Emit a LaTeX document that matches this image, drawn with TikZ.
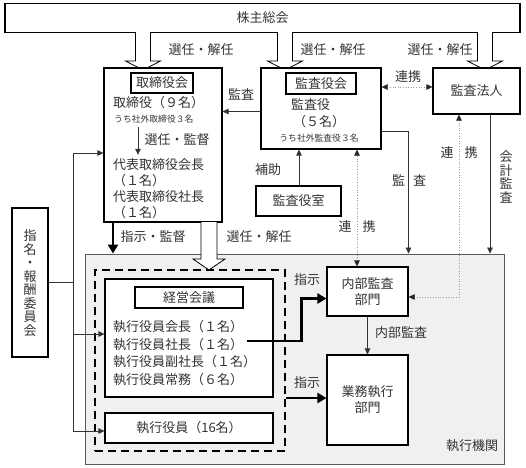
\documentclass[tikz,border=0pt]{standalone}
\usepackage{fontspec}
\setmainfont{Noto Sans CJK JP}
\usetikzlibrary{arrows.meta}

\begin{document}
\begin{tikzpicture}[x=1pt, y=-1pt,
    every node/.style = {font=\fontsize{13}{16}\selectfont, text=black!80, inner sep=0pt},
    box/.style = {draw, line width=1.1pt, fill=white},
    small/.style = {font=\fontsize{8.8}{10}\selectfont},
    vert/.style = {align=center, font=\fontsize{13}{13.5}\selectfont},
    arr/.style = {draw=black!80, line width=0.7pt, -{Triangle[length=6pt, width=5.5pt]}},
    dots/.style = {draw=black!40, line width=0.6pt, dotted,
        {Triangle[length=6pt, width=5.5pt, color=black!85]}-{Triangle[length=6pt, width=5.5pt, color=black!85]}},
    hollow/.style = {draw, line width=0.8pt, fill=white},
    bigarr/.style = {draw, line width=2.6pt, -{Triangle[length=9pt, width=10pt]}}]
    \useasboundingbox (0,0) rectangle (526,467);

    % top
    \node[box, minimum width=515pt, minimum height=29pt] (soukai) at (262.5,18) {株主総会};
    \foreach \x in {143, 285, 485}
        \draw[hollow] (\x-7.5,32) -- (\x-7.5,61) -- (\x-17.5,61) -- (\x,70)
            -- (\x+17.5,61) -- (\x+7.5,61) -- (\x+7.5,32);
    \node (senin1) at (201,50) {選任・解任};
    \node (senin2) at (333,50) {選任・解任};
    \node (senin3) at (440,50) {選任・解任};

    % board
    \node[box, minimum width=118pt, minimum height=154pt] (torishimari) at (163,145) {};
    \node[box, minimum width=62pt, minimum height=20pt] (torititle) at (162,83) {取締役会};
    \node[anchor=west] (tori9) at (113,103) {取締役（９名）};
    \node[anchor=west, small] (torigai) at (114,119) {うち社外取締役３名};
    \node[anchor=west] (daihyo1) at (113,165) {代表取締役会長};
    \node[anchor=west] (daihyo1n) at (113,181) {（１名）};
    \node[anchor=west] (daihyo2) at (113,197) {代表取締役社長};
    \node[anchor=west] (daihyo2n) at (113,213) {（１名）};
    \draw[arr] ([xshift=24pt, yshift=-4pt]torigai.south west) -- ([xshift=25pt, yshift=4pt]daihyo1.north west);
    \node (senkan) at (177,140) {選任・監督};

    % auditors
    \node[box, minimum width=120pt, minimum height=81pt] (kansayakukai) at (321,108.5) {};
    \node[box, minimum width=70pt, minimum height=21pt] (kansatitle) at (321,83.5) {監査役会};
    \node[anchor=west] (kansa5) at (291,105) {監査役};
    \node[anchor=west] (kansa5n) at (293,122) {（５名）};
    \node[small] (kansagai) at (319,138) {うち社外監査役３名};
    \node[box, minimum width=87pt, minimum height=46pt] (houjin) at (476.5,91) {監査法人};
    \node[box, minimum width=85pt, minimum height=30pt] (kansashitsu) at (298.5,201) {監査役室};

    \draw[arr] ([yshift=-3pt]kansayakukai.west) -- ([yshift=-3pt]kansayakukai.west -| torishimari.east);
    \node (kansalbl) at (241,94) {監査};
    \draw[dots] ([yshift=4pt]houjin.west -| kansayakukai.east) -- ([yshift=4pt]houjin.west);
    \node (renkei1) at (408,77) {連携};
    \draw[arr] (kansashitsu.north -| 299,0) -- (kansayakukai.south -| 299,0);
    \node (hojo) at (268,170) {補助};

    % nomination committee
    \node[box, minimum width=36pt, minimum height=149pt] (iinkai) at (30,282.5) {};
    \node[vert] (iinkaitext) at (30,283) {指\\名\\・\\報\\酬\\委\\員\\会};

    % executive body
    \node[draw=black!65, line width=0.8pt, fill=black!6, minimum width=419pt, minimum height=210pt] (shikkou) at (294.5,359) {};
    \node (shikkoulbl) at (472,446) {執行機関};
    \node[draw, line width=2.2pt, dash pattern=on 8pt off 5pt, minimum width=190pt, minimum height=181pt] (dashbox) at (190,360.5) {};
    \node[box, minimum width=168pt, minimum height=118pt] (keiei) at (189,338) {};
    \node[box, minimum width=108pt, minimum height=21pt] (keieititle) at (189,297.5) {経営会議};
    \node[anchor=west] (kaicho) at (113,327) {執行役員会長（１名）};
    \node[anchor=west] (shacho) at (113,344.5) {執行役員社長（１名）};
    \node[anchor=west] (fuku) at (113,362) {執行役員副社長（１名）};
    \node[anchor=west] (jomu) at (113,379.5) {執行役員常務（６名）};
    \node[box, minimum width=168pt, minimum height=30pt] (yakuin16) at (189,428) {執行役員（16名）};
    \node[box, minimum width=81pt, minimum height=49pt, align=center] (naibu) at (367.5,291.5) {内部監査\\部門};
    \node[box, minimum width=81pt, minimum height=90pt, align=center] (gyoumu) at (367.5,400) {業務執行\\部門};

    % links into the executive body
    \draw[bigarr] ([xshift=-50pt]torishimari.south) -- ([xshift=-50pt]torishimari.south |- shikkou.north);
    \node (shiji) at (153,237) {指示・監督};
    \draw[hollow] (201,222) -- (201,259) -- (193,259) -- (209,270) -- (225,259) -- (217,259) -- (217,222);
    \node (senin4) at (259,237) {選任・解任};
    \draw[dots] ([xshift=-10.5pt]naibu.north) -- ([xshift=-10.5pt]naibu.north |- kansayakukai.south);
    \node (renkei2) at (357,227) {連\hspace{11pt}携};
    \draw[arr] ([yshift=-22.5pt]kansayakukai.east) -| (naibu.east |- shikkou.north);
    \node (kansa2) at (409,180) {監\hspace{8pt}査};
    \draw[arr] ([xshift=13.5pt]houjin.south) -- ([xshift=13.5pt]houjin.south |- shikkou.north);
    \node[vert] (kaikei) at (506,177) {会\\計\\監\\査};
    \draw[dots] ([yshift=-5.5pt]naibu.east) -| ([xshift=-17.5pt]houjin.south);
    \node (renkei3) at (459,153) {連\hspace{11pt}携};

    % committee bus
    \coordinate (bus) at (73,282.5);
    \draw[draw=black!80, line width=0.7pt] (iinkai.east) -- (bus);
    \draw[arr] (bus) |- ([yshift=-8pt]torishimari.west);
    \draw[arr] (bus) |- ([yshift=4pt]keiei.west);
    \draw[arr] (bus) |- ([yshift=-3pt]yakuin16.west);

    % instructions
    \draw[bigarr] ([xshift=58pt, yshift=-3pt]keiei.center) -| ([xshift=-25pt, yshift=-7pt]naibu.west) -- ([yshift=-7pt]naibu.west);
    \node (shiji1) at (307,280) {指示};
    \draw[bigarr] ([yshift=2pt]gyoumu.west -| dashbox.east) -- ([yshift=2pt]gyoumu.west);
    \node (shiji2) at (307,383) {指示};
    \draw[arr] (naibu.south) -- (gyoumu.north);
    \node (naibulbl) at (401,333) {内部監査};
\end{tikzpicture}
\end{document}
